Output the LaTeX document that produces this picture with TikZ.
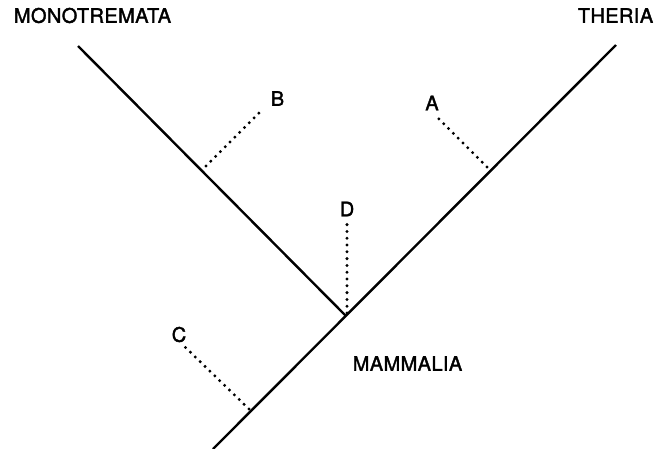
\documentclass[tikz,border=0pt]{standalone}
\usepackage{fontspec}
\setmainfont{TeX Gyre Heros}[FakeBold=1.8,LetterSpace=2]
\begin{document}
\begin{tikzpicture}[x=1pt,y=-1pt,
  branch/.style={line width=2.4pt,line cap=butt},
  dotline/.style={line width=3.3pt,line cap=round,dash pattern=on 0pt off 6.8pt},
  lbl/.style={inner sep=0pt,font=\fontsize{20}{20}\selectfont}]
\useasboundingbox (0,0) rectangle (665,448);
% tree lines
\coordinate (mono) at (78,46);
\coordinate (ther) at (616,45);
\coordinate (J) at (346,316);
\coordinate (root) at (213,449);
\draw[branch] (mono) -- (J);
\draw[branch] (root) -- (ther);
% labels
\node[lbl] (tm) at (92.5,15.5) {MONOTREMATA};
\node[lbl] (tt) at (615.5,15.5) {THERIA};
\node[lbl] (tmm) at (407.5,363.5) {MAMMALIA};
\node[lbl] (la) at (432,103) {A};
\node[lbl] (lb) at (277.5,98.5) {B};
\node[lbl] (lc) at (179,334.5) {C};
\node[lbl] (ld) at (347,209) {D};
% dotted characters
\coordinate (b1) at (206,166);
\coordinate (b2) at (263.5,108.5);
\coordinate (a1) at (487,167);
\coordinate (a2) at (437.5,117.5);
\coordinate (c1) at (249,409);
\coordinate (c2) at (185,347);
\coordinate (d1) at (347,313);
\coordinate (d2) at (347,222);
\draw[dotline] (b1) -- (b2);
\draw[dotline] (a1) -- (a2);
\draw[dotline] (c1) -- (c2);
\draw[dotline] (d1) -- (d2);
\end{tikzpicture}
\end{document}
